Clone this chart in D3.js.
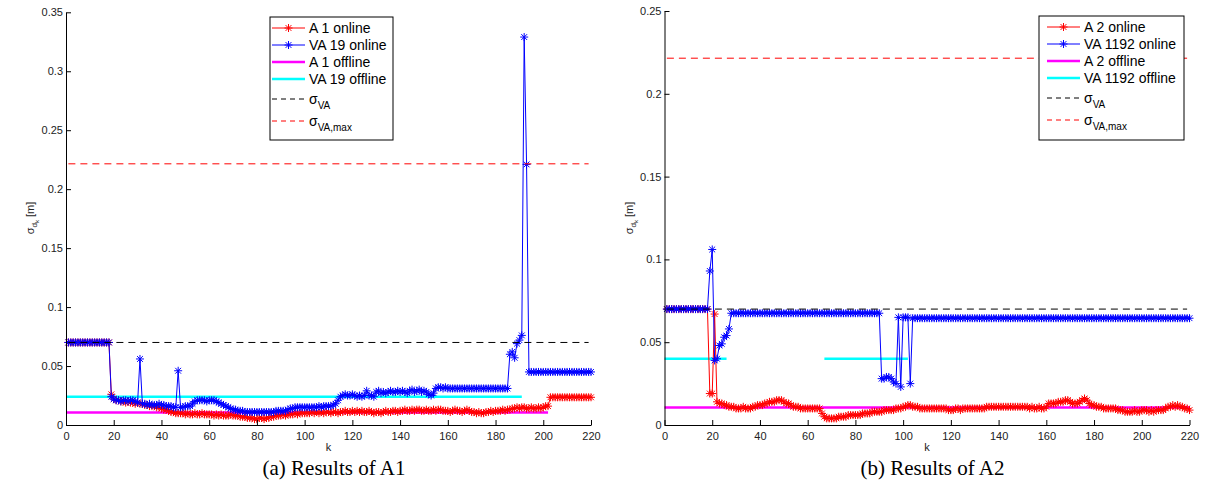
<!DOCTYPE html>
<html lang="en">
<head>
<meta charset="UTF-8">
<title>Results of A1 and A2</title>
<style>
  body { margin: 0; background: #fff; }
  svg { display: block; font-family: "Liberation Sans", Arial, sans-serif; }
</style>
</head>
<body>
<svg width="1220" height="502"></svg>

<script src="https://d3js.org/d3.v7.min.js"></script>
<script>

// ---- data (k = 1..220) ----
var kTicks = [0, 20, 40, 60, 80, 100, 120, 140, 160, 180, 200, 220];
var yTicksA1 = [0, 0.05, 0.1, 0.15, 0.2, 0.25, 0.3, 0.35];
var yTicksA2 = [0, 0.05, 0.1, 0.15, 0.2, 0.25];

var a1Online = [
  0.07,0.07,0.07,0.07,0.07,0.07,0.07,0.07,0.07,0.07,
  0.07,0.07,0.07,0.07,0.07,0.07,0.07,0.07,0.026,0.022,
  0.021,0.021,0.020,0.020,0.019,0.020,0.019,0.019,0.018,0.019,
  0.018,0.018,0.017,0.017,0.016,0.016,0.016,0.015,0.015,0.014,
  0.013,0.013,0.012,0.011,0.011,0.010,0.010,0.010,0.010,0.009,
  0.010,0.009,0.009,0.010,0.009,0.009,0.010,0.009,0.009,0.009,
  0.009,0.008,0.009,0.008,0.009,0.008,0.008,0.008,0.009,0.008,
  0.008,0.008,0.007,0.007,0.007,0.006,0.006,0.006,0.005,0.005,
  0.006,0.006,0.005,0.006,0.006,0.007,0.007,0.008,0.008,0.008,
  0.009,0.008,0.009,0.009,0.009,0.010,0.009,0.010,0.010,0.010,
  0.010,0.010,0.011,0.010,0.011,0.010,0.011,0.010,0.011,0.011,
  0.010,0.011,0.011,0.010,0.011,0.011,0.012,0.011,0.011,0.012,
  0.011,0.012,0.011,0.012,0.011,0.011,0.012,0.011,0.010,0.011,
  0.011,0.010,0.011,0.012,0.011,0.011,0.012,0.012,0.011,0.012,
  0.012,0.013,0.012,0.012,0.013,0.012,0.013,0.013,0.012,0.012,
  0.013,0.012,0.012,0.013,0.012,0.013,0.013,0.012,0.012,0.012,
  0.011,0.012,0.013,0.012,0.012,0.011,0.012,0.013,0.012,0.011,
  0.011,0.010,0.011,0.010,0.010,0.011,0.011,0.012,0.011,0.012,
  0.012,0.012,0.013,0.012,0.013,0.013,0.014,0.014,0.015,0.014,
  0.015,0.015,0.014,0.014,0.015,0.014,0.014,0.015,0.014,0.015,
  0.016,0.016,0.0235,0.0235,0.0235,0.0235,0.0235,0.0235,0.0235,0.0235,
  0.0235,0.0235,0.0235,0.0235,0.0235,0.0235,0.0235,0.0235,0.0235,0.0235
];

var va19Online = [
  0.07,0.07,0.07,0.07,0.07,0.07,0.07,0.07,0.07,0.07,
  0.07,0.07,0.07,0.07,0.07,0.07,0.07,0.07,0.024,0.022,
  0.021,0.021,0.020,0.021,0.021,0.020,0.021,0.021,0.020,0.019,
  0.056,0.018,0.018,0.017,0.018,0.017,0.017,0.017,0.018,0.017,
  0.017,0.016,0.016,0.016,0.015,0.015,0.046,0.015,0.015,0.016,
  0.016,0.016,0.018,0.020,0.021,0.021,0.021,0.021,0.020,0.021,
  0.021,0.021,0.020,0.019,0.018,0.017,0.016,0.015,0.014,0.013,
  0.013,0.012,0.012,0.012,0.011,0.011,0.011,0.011,0.011,0.011,
  0.011,0.011,0.011,0.011,0.011,0.011,0.011,0.012,0.012,0.012,
  0.012,0.012,0.013,0.014,0.014,0.015,0.015,0.015,0.015,0.015,
  0.015,0.015,0.015,0.015,0.015,0.016,0.015,0.016,0.016,0.016,
  0.016,0.017,0.018,0.021,0.024,0.025,0.026,0.025,0.025,0.026,
  0.025,0.024,0.025,0.024,0.025,0.029,0.025,0.025,0.024,0.028,
  0.029,0.027,0.028,0.027,0.028,0.029,0.028,0.028,0.029,0.028,
  0.029,0.028,0.027,0.029,0.030,0.028,0.029,0.030,0.028,0.029,
  0.028,0.026,0.025,0.027,0.031,0.032,0.032,0.031,0.032,0.031,
  0.031,0.031,0.031,0.031,0.031,0.031,0.031,0.031,0.031,0.031,
  0.031,0.031,0.031,0.031,0.031,0.031,0.031,0.031,0.031,0.031,
  0.031,0.031,0.031,0.031,0.031,0.060,0.062,0.057,0.069,0.072,
  0.076,0.329,0.221,0.045,0.045,0.045,0.045,0.045,0.045,0.045,
  0.045,0.045,0.045,0.045,0.045,0.045,0.045,0.045,0.045,0.045,
  0.045,0.045,0.045,0.045,0.045,0.045,0.045,0.045,0.045,0.045
];

var a2Online = [
  0.07,0.07,0.07,0.07,0.07,0.07,0.07,0.07,0.07,0.07,
  0.07,0.07,0.07,0.07,0.07,0.07,0.07,0.07,0.019,0.019,
  0.067,0.014,0.013,0.013,0.012,0.012,0.011,0.011,0.011,0.010,
  0.010,0.010,0.011,0.010,0.010,0.010,0.011,0.011,0.012,0.012,
  0.012,0.013,0.013,0.014,0.014,0.014,0.015,0.015,0.015,0.014,
  0.013,0.013,0.012,0.011,0.011,0.011,0.010,0.010,0.010,0.010,
  0.010,0.010,0.010,0.010,0.010,0.007,0.005,0.004,0.004,0.004,
  0.004,0.004,0.005,0.005,0.005,0.005,0.006,0.006,0.006,0.006,
  0.006,0.006,0.007,0.007,0.007,0.007,0.008,0.008,0.008,0.008,
  0.008,0.009,0.009,0.009,0.009,0.009,0.010,0.010,0.010,0.011,
  0.011,0.012,0.012,0.011,0.011,0.011,0.010,0.010,0.010,0.010,
  0.010,0.010,0.010,0.010,0.010,0.010,0.010,0.010,0.009,0.009,
  0.009,0.010,0.010,0.009,0.010,0.010,0.010,0.010,0.010,0.010,
  0.010,0.010,0.010,0.010,0.011,0.011,0.011,0.011,0.011,0.011,
  0.011,0.011,0.011,0.011,0.011,0.011,0.011,0.011,0.011,0.011,
  0.011,0.011,0.010,0.011,0.010,0.010,0.011,0.010,0.010,0.011,
  0.013,0.013,0.013,0.013,0.014,0.014,0.014,0.015,0.015,0.014,
  0.013,0.013,0.013,0.014,0.015,0.016,0.015,0.013,0.012,0.012,
  0.011,0.011,0.011,0.010,0.010,0.010,0.010,0.010,0.010,0.009,
  0.009,0.009,0.008,0.008,0.008,0.008,0.009,0.008,0.008,0.009,
  0.009,0.009,0.008,0.009,0.008,0.009,0.009,0.009,0.009,0.010,
  0.011,0.011,0.012,0.011,0.012,0.011,0.011,0.010,0.010,0.009
];

var va1192Online = [
  0.07,0.07,0.07,0.07,0.07,0.07,0.07,0.07,0.07,0.07,
  0.07,0.07,0.07,0.07,0.07,0.07,0.07,0.07,0.093,0.106,
  0.039,0.040,0.048,0.049,0.053,0.054,0.058,0.0675,0.0675,0.0675,
  0.0675,0.0675,0.0675,0.0675,0.0675,0.0675,0.0675,0.0675,0.0675,0.0675,
  0.0675,0.0675,0.0675,0.0675,0.0675,0.0675,0.0675,0.0675,0.0675,0.0675,
  0.0675,0.0675,0.0675,0.0675,0.0675,0.0675,0.0675,0.0675,0.0675,0.0675,
  0.0675,0.0675,0.0675,0.0675,0.0675,0.0675,0.0675,0.0675,0.0675,0.0675,
  0.0675,0.0675,0.0675,0.0675,0.0675,0.0675,0.0675,0.0675,0.0675,0.0675,
  0.0675,0.0675,0.0675,0.0675,0.0675,0.0675,0.0675,0.0675,0.0675,0.0675,
  0.028,0.028,0.029,0.029,0.028,0.026,0.025,0.065,0.023,0.065,
  0.065,0.065,0.025,0.0645,0.0645,0.0645,0.0645,0.0645,0.0645,0.0645,
  0.0645,0.0645,0.0645,0.0645,0.0645,0.0645,0.0645,0.0645,0.0645,0.0645,
  0.0645,0.0645,0.0645,0.0645,0.0645,0.0645,0.0645,0.0645,0.0645,0.0645,
  0.0645,0.0645,0.0645,0.0645,0.0645,0.0645,0.0645,0.0645,0.0645,0.0645,
  0.0645,0.0645,0.0645,0.0645,0.0645,0.0645,0.0645,0.0645,0.0645,0.0645,
  0.0645,0.0645,0.0645,0.0645,0.0645,0.0645,0.0645,0.0645,0.0645,0.0645,
  0.0645,0.0645,0.0645,0.0645,0.0645,0.0645,0.0645,0.0645,0.0645,0.0645,
  0.0645,0.0645,0.0645,0.0645,0.0645,0.0645,0.0645,0.0645,0.0645,0.0645,
  0.0645,0.0645,0.0645,0.0645,0.0645,0.0645,0.0645,0.0645,0.0645,0.0645,
  0.0645,0.0645,0.0645,0.0645,0.0645,0.0645,0.0645,0.0645,0.0645,0.0645,
  0.0645,0.0645,0.0645,0.0645,0.0645,0.0645,0.0645,0.0645,0.0645,0.0645,
  0.0645,0.0645,0.0645,0.0645,0.0645,0.0645,0.0645,0.0645,0.0645,0.0645
];

// offline levels and the k ranges they cover
var a1Offline = 0.0105, a1OfflineRanges = [[0, 202]];
var va19Offline = 0.024, va19OfflineRanges = [[0, 191]];
var a2Offline = 0.0105, a2OfflineRanges = [[0, 220]];
var va1192Offline = 0.040, va1192OfflineRanges = [[0, 26], [67, 102]];

var sigmaVA = 0.07, sigmaVAmax = 0.2215, sigmaRange = [1, 219];

var legendA1 = ["A 1 online", "VA 19 online", "A 1 offline", "VA 19 offline"];
var legendA2 = ["A 2 online", "VA 1192 online", "A 2 offline", "VA 1192 offline"];

[a1Online, va19Online, a2Online, va1192Online].forEach(function(a, i) {
    if (a.length != 220) console.error("series " + i + " has " + a.length + " points");
});

// ---- drawing ----
var svg = d3.select("svg");
var starPath = "M-4,0H4M0,-4V4M-2.9,-2.9L2.9,2.9M-2.9,2.9L2.9,-2.9";

function fmtTick(d) { return String(+d.toFixed(2)); }

function drawPanel(p) {
    var x = d3.scaleLinear().domain([0, 220]).range([p.left, p.left + 525]);
    var y = d3.scaleLinear().domain([0, p.yMax]).range([425, p.top]);
    var g = svg.append("g");

    var line = d3.line()
        .x(function(d) { return x(d.k); })
        .y(function(d) { return y(d.v); });

    // offline reference levels
    p.offline.forEach(function(s) {
        s.ranges.forEach(function(r) {
            g.append("line")
                .attr("x1", x(r[0])).attr("x2", x(r[1]))
                .attr("y1", y(s.value)).attr("y2", y(s.value))
                .attr("stroke", s.color).attr("stroke-width", 2.5);
        });
    });

    // online series with * markers
    p.online.forEach(function(s) {
        var pts = s.values.map(function(v, i) { return {k: i + 1, v: v}; });
        g.append("path").datum(pts)
            .attr("d", line)
            .attr("fill", "none")
            .attr("stroke", s.color)
            .attr("stroke-width", 1);
        g.selectAll(null).data(pts).enter()
            .append("path")
            .attr("d", starPath)
            .attr("transform", function(d) { return "translate(" + x(d.k) + "," + y(d.v) + ")"; })
            .attr("fill", "none")
            .attr("stroke", s.color)
            .attr("stroke-width", 1);
    });

    // sigma lines
    [[sigmaVA, "#000"], [sigmaVAmax, "#f00"]].forEach(function(s) {
        g.append("line")
            .attr("x1", x(sigmaRange[0])).attr("x2", x(sigmaRange[1]))
            .attr("y1", y(s[0])).attr("y2", y(s[0]))
            .attr("stroke", s[1]).attr("stroke-width", 1)
            .attr("stroke-dasharray", "7,5");
    });

    // axes (ticks inside, MATLAB style)
    var xAxis = g.append("g")
        .attr("transform", "translate(0,425)")
        .call(d3.axisBottom(x).tickValues(kTicks).tickSize(-5).tickSizeOuter(0).tickPadding(7));
    var yAxis = g.append("g")
        .attr("transform", "translate(" + p.left + ",0)")
        .call(d3.axisLeft(y).tickValues(p.yTicks).tickFormat(fmtTick).tickSize(-5).tickSizeOuter(0).tickPadding(3));
    [xAxis, yAxis].forEach(function(a) {
        a.attr("font-size", 11).attr("font-family", "Liberation Sans, Arial, sans-serif");
        a.selectAll("path, line").attr("stroke", "#000");
        a.selectAll("text").attr("fill", "#222");
    });

    // axis labels
    g.append("text")
        .attr("x", p.left + 262.5).attr("y", 451)
        .attr("text-anchor", "middle")
        .attr("font-size", 11).attr("fill", "#222")
        .text("k");

    var yl = g.append("text")
        .attr("transform", "translate(" + (p.left - 32) + ",218) rotate(-90)")
        .attr("text-anchor", "middle")
        .attr("font-size", 11).attr("fill", "#222");
    yl.append("tspan").text("σ");
    yl.append("tspan").attr("font-size", 8).attr("dy", 3).text("d");
    yl.append("tspan").attr("font-size", 6).attr("dy", 2).text("k");
    yl.append("tspan").attr("dy", -5).text(" [m]");

    // caption
    svg.append("text")
        .attr("x", p.left + 268).attr("y", 475)
        .attr("text-anchor", "middle")
        .attr("font-family", "Liberation Serif, serif")
        .attr("font-size", 21).attr("fill", "#000")
        .text(p.caption);

    drawLegend(p);
}

function drawLegend(p) {
    var L = p.legend;
    var lg = svg.append("g").attr("transform", "translate(" + L.x + "," + L.y + ")");
    lg.append("rect")
        .attr("width", L.w).attr("height", L.h)
        .attr("fill", "#fff").attr("stroke", "#000").attr("stroke-width", 1);

    var rows = [11, 28, 45, 62, 82, 104];
    var styles = [
        {color: p.online[0].color, width: 1, star: true},
        {color: p.online[1].color, width: 1, star: true},
        {color: p.offline[0].color, width: 2.5},
        {color: p.offline[1].color, width: 2.5},
        {color: "#000", width: 1, dash: "5,4"},
        {color: "#f00", width: 1, dash: "5,4"}
    ];
    styles.forEach(function(st, i) {
        var cy = rows[i];
        lg.append("line")
            .attr("x1", L.x0).attr("x2", L.x0 + 33)
            .attr("y1", cy).attr("y2", cy)
            .attr("stroke", st.color).attr("stroke-width", st.width)
            .attr("stroke-dasharray", st.dash || null);
        if (st.star) {
            lg.append("path").attr("d", starPath)
                .attr("transform", "translate(" + (L.x0 + 16.5) + "," + cy + ")")
                .attr("fill", "none").attr("stroke", st.color);
        }
        var t = lg.append("text")
            .attr("x", L.x0 + 37).attr("y", cy + 5)
            .attr("font-size", 14).attr("fill", "#000");
        if (i < 4) {
            t.text(p.labels[i]);
        } else {
            t.append("tspan").text("σ");
            t.append("tspan").attr("font-size", 10).attr("dy", 5)
                .text(i == 4 ? "VA" : "VA,max");
        }
    });
}

drawPanel({
    left: 66, top: 12.3, yMax: 0.35, yTicks: yTicksA1,
    online: [{values: a1Online, color: "#f00"}, {values: va19Online, color: "#00f"}],
    offline: [{value: a1Offline, ranges: a1OfflineRanges, color: "#f0f"},
              {value: va19Offline, ranges: va19OfflineRanges, color: "#0ff"}],
    labels: legendA1,
    legend: {x: 270, y: 17, w: 123, h: 123, x0: 2},
    caption: "(a)  Results of A1"
});

drawPanel({
    left: 664.5, top: 11, yMax: 0.25, yTicks: yTicksA2,
    online: [{values: a2Online, color: "#f00"}, {values: va1192Online, color: "#00f"}],
    offline: [{value: a2Offline, ranges: a2OfflineRanges, color: "#f0f"},
              {value: va1192Offline, ranges: va1192OfflineRanges, color: "#0ff"}],
    labels: legendA2,
    legend: {x: 1039, y: 16, w: 145, h: 124, x0: 8},
    caption: "(b)  Results of A2"
});

</script>
</body>
</html>
